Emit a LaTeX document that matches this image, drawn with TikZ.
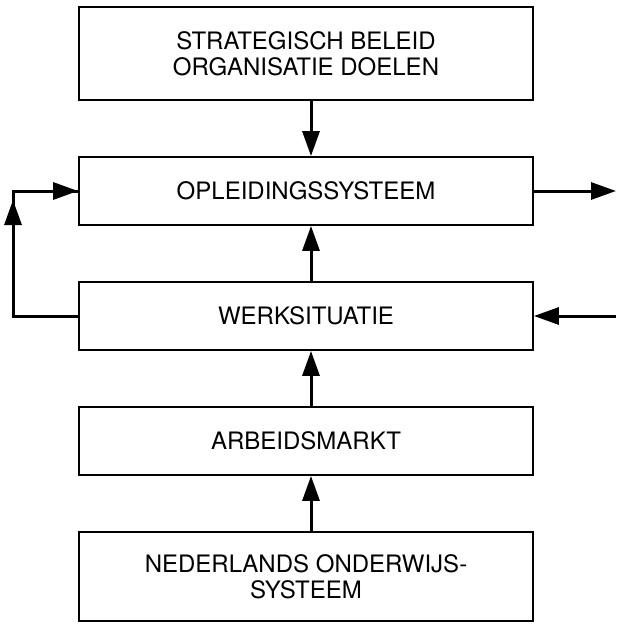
\documentclass[tikz,border=0pt]{standalone}
\usepackage{fontspec}
\setmainfont{TeX Gyre Heros}
\usetikzlibrary{arrows.meta,calc}
\begin{document}
\begin{tikzpicture}[x=1pt,y=-1pt,
  box/.style={draw,line width=1.8pt,minimum width=454pt,inner sep=0pt,align=center,
    font=\fontsize{24}{26}\selectfont},
  link/.style={line width=3pt},
  arr/.style={line width=3pt,-{Triangle[length=25pt,width=17pt]}}]
\useasboundingbox (0,0) rectangle (616,624);
\node[box,minimum height=93pt] (b1) at (306,53.5) {STRATEGISCH BELEID\\ORGANISATIE DOELEN};
\node[box,minimum height=68pt] (b2) at (306,191) {OPLEIDINGSSYSTEEM};
\node[box,minimum height=68pt] (b3) at (306,316) {WERKSITUATIE};
\node[box,minimum height=68pt] (b4) at (306,441) {ARBEIDSMARKT};
\node[box,minimum height=89pt] (b5) at (306,576.5) {NEDERLANDS ONDERWIJS-\\SYSTEEM};
\draw[arr] ([xshift=5pt]b1.south) -- ([xshift=5pt]b2.north);
\draw[arr] ([xshift=5pt]b3.north) -- ([xshift=5pt]b2.south);
\draw[arr] ([xshift=5pt]b4.north) -- ([xshift=5pt]b3.south);
\draw[arr] ([xshift=5pt]b5.north) -- ([xshift=5pt]b4.south);
\coordinate (lc) at (13,191);
\coordinate (lup) at (13,200);
\draw[link] (b3.west) -| (lc) -- (b2.west);
\draw[arr] ($(lup)+(0,25)$) -- (lup);
\draw[arr] ($(b2.west)+(-30,0)$) -- (b2.west);
\coordinate (rout) at (616,191);
\coordinate (rin) at (616,316);
\draw[arr] (b2.east) -- (rout);
\draw[arr] (rin) -- (b3.east);
\end{tikzpicture}
\end{document}
